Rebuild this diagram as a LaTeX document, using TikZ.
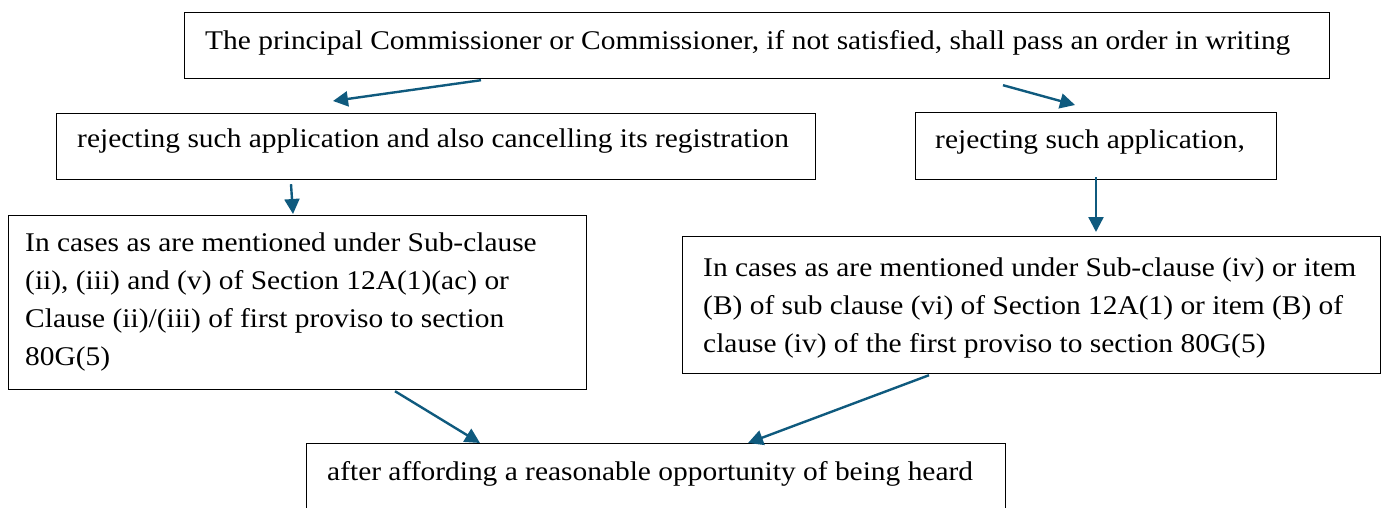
\documentclass[tikz,border=0pt]{standalone}
\usepackage{fontspec}
\setmainfont[FakeStretch=1.09]{Liberation Serif}
\usetikzlibrary{arrows.meta,calc}
\definecolor{arrowblue}{HTML}{0F5A7E}
\begin{document}
\begin{tikzpicture}[x=1pt,y=-1pt,
  box/.style={draw=black,line width=1.2pt,rectangle,inner sep=0pt,anchor=north west},
  txt/.style={anchor=base west,inner sep=0pt,font=\fontsize{27}{38.3}\selectfont},
  arr/.style={draw=arrowblue,line width=2.4pt,-{Triangle[length=15pt,width=15pt]}}]
\useasboundingbox (0,0) rectangle (1381,508);

% boxes
\node[box,minimum width=1145pt,minimum height=66pt] (top) at (184,12) {};
\node[box,minimum width=759pt,minimum height=66pt] (rejcancel) at (56,113) {};
\node[box,minimum width=361pt,minimum height=67pt] (rej) at (915,112) {};
\node[box,minimum width=578pt,minimum height=174pt] (casesL) at (8,215) {};
\node[box,minimum width=698pt,minimum height=137pt] (casesR) at (682,236) {};
\node[box,minimum width=699pt,minimum height=80pt] (heard) at (306,443) {};

% texts
\node[txt] (ttop) at ($(top.north west)+(21,38)$) {The principal Commissioner or Commissioner, if not satisfied, shall pass an order in writing};
\node[txt] (trejcancel) at ($(rejcancel.north west)+(21,35)$) {rejecting such application and also cancelling its registration};
\node[txt] (trej) at ($(rej.north west)+(20,37)$) {rejecting such application,};
\node[txt] (tcasesL) at ($(casesL.north west)+(17,36)$) {\parbox[t]{570pt}{\raggedright In cases as are mentioned under Sub-clause\\ (ii), (iii) and (v) of Section 12A(1)(ac) or\\ Clause (ii)/(iii) of first proviso to section\\ 80G(5)}};
\node[txt] (tcasesR) at ($(casesR.north west)+(21,40)$) {\parbox[t]{690pt}{\raggedright In cases as are mentioned under Sub-clause (iv) or item\\ (B) of sub clause (vi) of Section 12A(1) or item (B) of\\ clause (iv) of the first proviso to section 80G(5)}};
\node[txt] (theard) at ($(heard.north west)+(21,37)$) {after affording a reasonable opportunity of being heard};

% connector end points
\coordinate (a1s) at ($(top.south west)+(297,1)$);
\coordinate (a1e) at ($(rejcancel.north west)+(277,-12)$);
\coordinate (a2s) at ($(top.south west)+(819,6)$);
\coordinate (a2e) at ($(rej.north west)+(160,-7)$);
\coordinate (a3s) at ($(rejcancel.south west)+(235,4)$);
\coordinate (a3e) at ($(casesL.north west)+(285,-1)$);
\coordinate (a4s) at ($(rej.south west)+(181,-3)$);
\coordinate (a4e) at ($(casesR.north west)+(414,-4)$);
\coordinate (a5s) at ($(casesL.south west)+(387,1)$);
\coordinate (a5e) at ($(heard.north west)+(174,0)$);
\coordinate (a6s) at ($(casesR.south west)+(247,1)$);
\coordinate (a6e) at ($(heard.north west)+(442,0)$);

% connectors
\draw[arr] (a1s) -- (a1e);
\draw[arr] (a2s) -- (a2e);
\draw[arr] (a3s) -- (a3e);
\draw[arr] (a4s) -- (a4e);
\draw[arr] (a5s) -- (a5e);
\draw[arr] (a6s) -- (a6e);
\end{tikzpicture}
\end{document}
